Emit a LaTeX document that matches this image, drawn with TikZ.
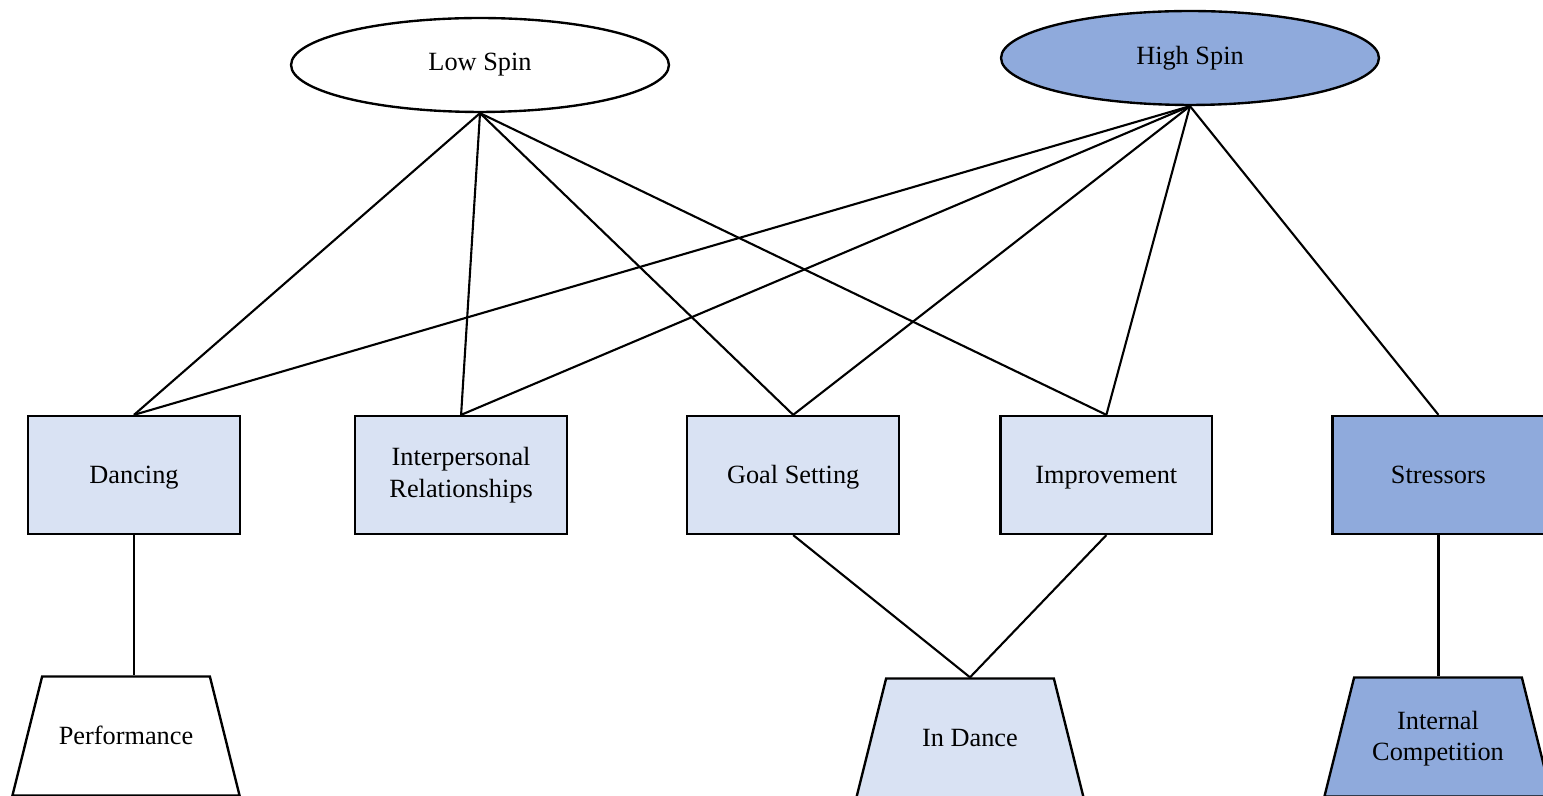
\documentclass[tikz,border=0pt]{standalone}
\usepackage{fontspec}
\setmainfont{Liberation Serif}
\usepackage{xcolor}
\usetikzlibrary{positioning, shapes.geometric}
\definecolor{paleblue}{HTML}{D9E2F3}
\definecolor{midblue}{HTML}{8FAADC}

\begin{document}
\begin{tikzpicture}[
  x=0.38pt, y=-0.38pt,
  node distance=44.8pt,
  box/.style={rectangle, draw, line width=0.9pt, fill=paleblue, minimum width=80.5pt, minimum height=44.8pt, align=center, inner sep=2pt, text height=6.8pt, text depth=0pt},
  oval/.style={ellipse, draw, line width=0.9pt, minimum width=143.6pt, minimum height=35.7pt},
  base/.style={trapezium, trapezium angle=76, trapezium stretches body, draw, line width=0.9pt, fill=paleblue, minimum width=86.3pt, inner xsep=2pt, inner ysep=0pt, text height=25.8pt, text depth=19.4pt},
  link/.style={line width=0.8pt}
]
\useasboundingbox (0,0) rectangle (1543,796);
\node[oval, fill=white] (lowspin) at (480,65) {Low Spin};
\node[oval, fill=midblue] (highspin) at (1190,58) {High Spin};
\node[box] (dancing) at (134,475) {Dancing};
\node[box, right=42.9pt of dancing, text height={}, text depth={}] (relations) {Interpersonal\\Relationships};
\node[box, right=of relations] (goals) {Goal Setting};
\node[box, right=37.6pt of goals] (improve) {Improvement};
\node[box, right=of improve, fill=midblue] (stress) {Stressors};
\node[base, fill=white] (perform) at (126,736) {Performance};
\node[base] (indance) at (970,738) {In Dance};
\node[base, fill=midblue] (compete) at (1438,737) {\begin{tabular}{@{}c@{}}Internal\\Competition\end{tabular}};
% spin groups to themes
\foreach \t in {dancing, relations, goals, improve}
  \draw[link] (lowspin.south) -- (\t.north);
\foreach \t in {dancing, relations, goals, improve, stress}
  \draw[link] (highspin.south) -- (\t.north);
% themes to subthemes
\draw[link] (dancing.south) -- (dancing.south |- perform.north);
\draw[link] (goals.south) -- (indance.north);
\draw[link] (improve.south) -- (indance.north);
\draw[link] (stress.south) -- (stress.south |- compete.north);
\end{tikzpicture}
\end{document}
